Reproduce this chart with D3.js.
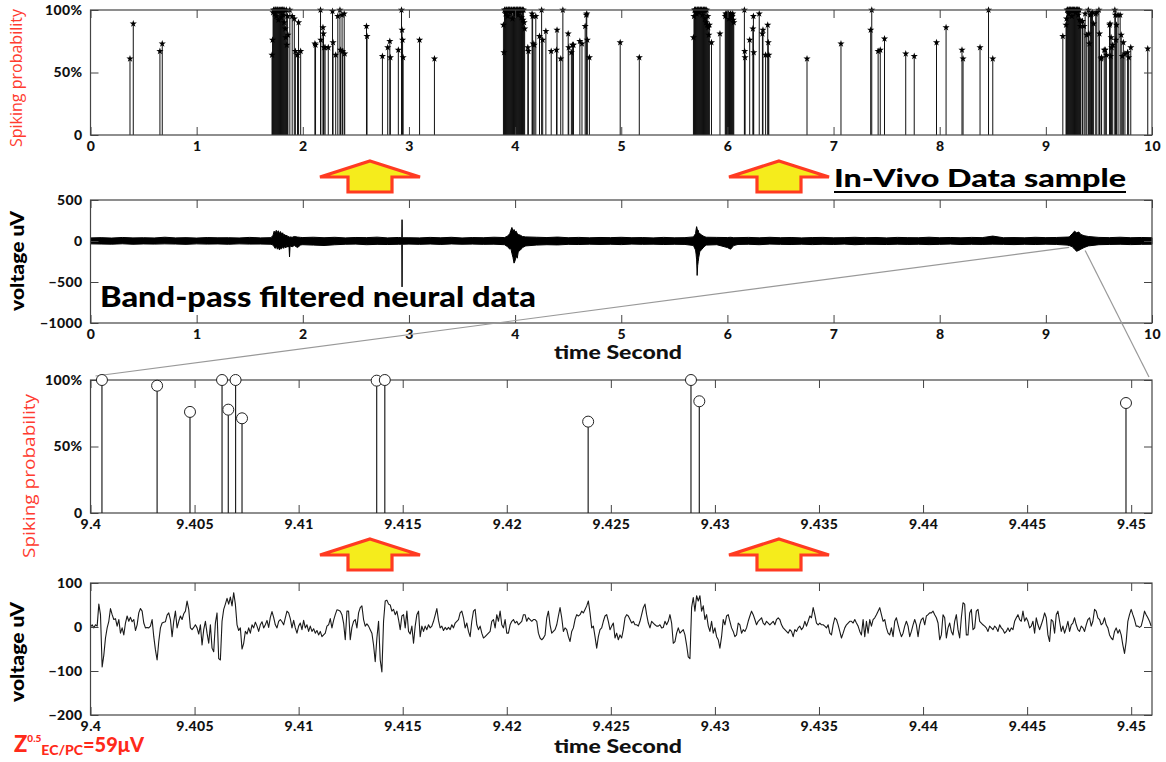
<!DOCTYPE html>
<html>
<head>
<meta charset="utf-8">
<script src="https://cdn.jsdelivr.net/npm/d3@7"></script>
<style>
  html, body { margin: 0; padding: 0; background: #fff; }
  svg { display: block; }
</style>
</head>
<body>
<svg id="fig" width="1166" height="762"></svg>
<script>
// ---------- Panel 1: spiking probability over 10 s (seconds, probability 0..1) ----------
const spikeTimes = [
  0.372, 0.403, 0.654, 0.676,
  1.710, 1.715, 1.720, 1.725, 1.730, 1.735, 1.740, 1.745, 1.750, 1.755, 1.760, 1.765, 1.770, 1.775, 1.780, 1.785,
  1.790, 1.795, 1.800, 1.805, 1.810, 1.815, 1.820, 1.825, 1.830, 1.835, 1.840, 1.845, 1.850, 1.855, 1.860,
  1.878, 1.900, 1.920, 1.930, 1.950, 1.960, 1.980,
  2.114, 2.120, 2.167, 2.170, 2.190, 2.195, 2.200, 2.210, 2.240,
  2.280, 2.285, 2.310, 2.330, 2.350, 2.355, 2.370, 2.375, 2.390, 2.395,
  2.600, 2.605, 2.750, 2.800, 2.820, 2.825, 2.900,
  2.930, 2.935, 2.940, 2.945, 3.100, 3.240,
  3.890, 3.895, 3.900, 3.905, 3.910, 3.915, 3.920, 3.925, 3.930, 3.935, 3.940, 3.945, 3.950, 3.955, 3.960, 3.965,
  3.970, 3.975, 3.980, 3.985, 3.990, 3.995, 4.000, 4.005, 4.010, 4.015, 4.020, 4.025, 4.030, 4.035, 4.040, 4.045,
  4.050, 4.055, 4.060, 4.065, 4.070, 4.075, 4.080, 4.085, 4.090,
  4.120, 4.125, 4.160, 4.165, 4.170, 4.180, 4.195, 4.230, 4.250, 4.260, 4.290,
  4.340, 4.390, 4.395, 4.430, 4.450, 4.500, 4.505, 4.530, 4.540, 4.550, 4.610, 4.630,
  4.660, 4.670, 4.675, 4.680, 4.700,
  4.990, 5.170,
  5.680, 5.685, 5.690, 5.695, 5.700, 5.705, 5.710, 5.715, 5.720, 5.725, 5.730, 5.735, 5.740, 5.745, 5.750, 5.755,
  5.760, 5.765, 5.770, 5.775, 5.780, 5.785, 5.790, 5.795, 5.800, 5.805, 5.810, 5.815, 5.820, 5.825, 5.830,
  5.850, 5.930,
  5.980, 5.985, 5.990, 5.995, 6.000, 6.005, 6.010, 6.015, 6.020, 6.025, 6.030, 6.035, 6.040, 6.045, 6.050, 6.055, 6.060,
  6.160, 6.163, 6.166, 6.210, 6.240, 6.245, 6.248, 6.300, 6.330, 6.335, 6.360, 6.380, 6.385, 6.390,
  6.750, 7.070, 7.350, 7.360, 7.420, 7.440, 7.480, 7.680, 7.760, 7.970, 8.060, 8.210, 8.220, 8.380, 8.460, 8.500,
  9.160,
  9.190, 9.195, 9.200, 9.205, 9.210, 9.215, 9.220, 9.225, 9.230, 9.235, 9.240, 9.245, 9.250, 9.255, 9.260, 9.265,
  9.270, 9.275, 9.280, 9.285, 9.290, 9.295, 9.300, 9.305, 9.310, 9.315, 9.320, 9.325, 9.330,
  9.345, 9.360, 9.370, 9.385, 9.400, 9.405, 9.410, 9.420, 9.430, 9.440, 9.450, 9.470, 9.480,
  9.500, 9.505, 9.520, 9.525, 9.550, 9.560, 9.570, 9.600, 9.605, 9.610, 9.615, 9.620, 9.630,
  9.650, 9.655, 9.660, 9.665, 9.680, 9.700, 9.710, 9.720, 9.730, 9.745, 9.770, 9.780, 9.800,
  9.960
];
const spikeProbs = [
  0.61, 0.89, 0.67, 0.73,
  0.64, 0.76, 0.98, 1.00, 1.00, 0.97, 1.00, 1.00, 0.95, 1.00, 1.00, 1.00, 0.92, 1.00, 1.00, 0.99,
  1.00, 0.94, 1.00, 1.00, 1.00, 0.96, 1.00, 0.90, 1.00, 0.85, 0.78, 1.00, 0.72, 0.95, 0.80,
  1.00, 0.95, 0.93, 0.67, 0.64, 0.90, 0.67,
  0.73, 0.72, 1.00, 0.76, 0.86, 0.81, 0.70, 0.70, 0.70,
  0.99, 0.74, 0.64, 0.95, 1.00, 0.68, 0.96, 0.67, 0.97, 0.65,
  0.87, 0.79, 0.63, 0.70, 0.75, 0.62, 0.68,
  1.00, 0.84, 0.76, 0.62, 0.76, 0.61,
  0.88, 0.66, 1.00, 1.00, 0.97, 1.00, 1.00, 1.00, 0.95, 1.00, 1.00, 1.00, 1.00, 0.98, 1.00, 1.00,
  1.00, 0.93, 1.00, 1.00, 1.00, 1.00, 1.00, 0.97, 1.00, 1.00, 1.00, 1.00, 0.96, 1.00, 1.00, 1.00,
  1.00, 1.00, 0.94, 1.00, 1.00, 0.92, 1.00, 0.90, 0.85,
  0.70, 0.67, 0.97, 0.95, 0.73, 0.72, 0.95, 0.79, 1.00, 0.76, 0.83,
  0.67, 0.68, 0.84, 0.61, 1.00, 0.81, 0.70, 0.66, 0.72, 0.72, 0.75, 0.73,
  0.87, 0.96, 0.97, 0.76, 0.62,
  0.74, 0.62,
  0.78, 0.95, 1.00, 1.00, 1.00, 1.00, 0.97, 1.00, 1.00, 1.00, 1.00, 0.98, 1.00, 1.00, 1.00, 1.00,
  1.00, 0.96, 1.00, 1.00, 1.00, 1.00, 0.93, 1.00, 0.90, 1.00, 0.88, 0.95, 0.86, 0.80, 0.88,
  0.74, 0.81,
  0.95, 0.97, 0.96, 0.97, 0.95, 0.96, 0.97, 0.93, 0.96, 0.95, 0.97, 0.94, 0.96, 0.95, 0.97, 0.92, 0.90,
  1.00, 0.67, 0.62, 0.76, 0.85, 0.95, 0.66, 0.97, 0.81, 0.84, 0.64, 0.88, 0.74, 0.64,
  0.61, 0.73, 0.84, 1.00, 0.67, 0.68, 0.77, 0.65, 0.63, 0.74, 0.86, 0.68, 0.61, 0.70, 1.00, 0.61,
  0.79,
  0.88, 0.93, 1.00, 1.00, 1.00, 0.97, 1.00, 1.00, 1.00, 1.00, 1.00, 0.95, 1.00, 1.00, 1.00, 1.00,
  1.00, 1.00, 0.98, 1.00, 1.00, 1.00, 1.00, 0.96, 1.00, 1.00, 0.92, 0.87, 0.91,
  0.91, 0.87, 0.97, 0.80, 1.00, 0.81, 0.73, 0.96, 0.97, 0.98, 0.89, 0.97, 0.98,
  1.00, 0.81, 0.61, 0.62, 0.68, 0.68, 0.64, 0.88, 0.89, 0.63, 0.78, 0.70, 0.72,
  1.00, 0.96, 0.76, 0.88, 0.96, 0.96, 0.80, 0.63, 0.74, 0.65, 0.66, 0.62, 0.70,
  0.69
];

// ---------- Panel 2: band-pass filtered signal, upper/lower envelope (uV) ----------
const envTime = [
  0.0, 0.1, 0.2, 0.3, 0.4, 0.5, 0.6, 0.7, 0.8, 0.9, 1.0, 1.1, 1.2, 1.3, 1.4, 1.5, 1.6, 1.7,
  1.72, 1.73, 1.74, 1.75, 1.76, 1.77, 1.78, 1.79, 1.80, 1.81, 1.82, 1.83, 1.84, 1.85, 1.86, 1.87, 1.875, 1.88, 1.90, 1.92, 1.95, 1.98,
  2.0, 2.1, 2.2, 2.3, 2.4, 2.5, 2.6, 2.7, 2.8, 2.9, 2.933, 2.935, 2.937,
  3.0, 3.1, 3.2, 3.3, 3.4, 3.5, 3.6, 3.7, 3.8, 3.9,
  3.93, 3.95, 3.96, 3.97, 3.98, 3.99, 4.00, 4.01, 4.02, 4.03, 4.05, 4.07, 4.10,
  4.2, 4.3, 4.4, 4.5, 4.6, 4.7, 4.8, 4.9, 5.0, 5.1, 5.2, 5.3, 5.4, 5.5, 5.6,
  5.68, 5.70, 5.705, 5.71, 5.715, 5.72, 5.725, 5.73, 5.74, 5.76, 5.78, 5.80,
  5.9, 6.0, 6.03, 6.06,
  6.1, 6.2, 6.3, 6.4, 6.5, 6.6, 6.7, 6.8, 6.9, 7.0, 7.1, 7.2, 7.3, 7.4, 7.5, 7.6,
  7.7, 7.8, 7.9, 8.0, 8.1, 8.2, 8.3, 8.4, 8.5, 8.6, 8.7, 8.8, 8.9, 9.0, 9.1, 9.2,
  9.22, 9.25, 9.27, 9.29, 9.31, 9.33, 9.36, 9.40,
  9.5, 9.6, 9.7, 9.8, 9.9, 10.0
];
const envHigh = [
  38, 41, 36, 43, 38, 40, 37, 46, 38, 41, 36, 42, 39, 40, 37, 44, 38, 41,
  70, 120, 95, 130, 105, 125, 90, 115, 85, 100, 70, 80, 60, 70, 50, 55, 45, 50, 45, 55, 48, 44,
  42, 46, 40, 45, 38, 43, 41, 47, 38, 43, 40, 260, 40,
  40, 38, 44, 39, 45, 37, 42, 40, 46, 42,
  60, 90, 130, 165, 120, 140, 110, 120, 90, 80, 70, 55, 50,
  46, 42, 48, 40, 44, 39, 43, 41, 45, 40, 42, 38, 44, 39, 41,
  50, 90, 140, 175, 150, 120, 130, 100, 90, 70, 55, 46,
  44, 42, 45, 40,
  41, 44, 39, 45, 40, 43, 38, 42, 44, 39, 41, 45, 40, 43, 38, 44,
  41, 40, 46, 40, 43, 39, 44, 41, 60, 40, 42, 39, 45, 41, 43, 48,
  50, 90, 120, 100, 110, 80, 65, 55,
  44, 41, 46, 40, 43, 40
];
const envLow = [
  -35, -37, -39, -34, -40, -36, -38, -35, -37, -41, -35, -38, -36, -40, -35, -38, -37, -40,
  -50, -70, -90, -60, -100, -75, -110, -85, -95, -70, -90, -60, -85, -55, -75, -60, -195, -60, -70, -55, -80, -48,
  -45, -50, -55, -46, -40, -38, -45, -41, -43, -40, -40, -560, -40,
  -38, -41, -37, -42, -36, -40, -38, -41, -39, -45,
  -70, -100, -90, -150, -200, -270, -240, -180, -210, -130, -110, -80, -60,
  -50, -45, -48, -41, -43, -39, -42, -40, -44, -38, -41, -39, -43, -40, -42,
  -55, -110, -160, -230, -420, -300, -250, -200, -130, -100, -70, -50,
  -45, -80, -100, -55,
  -42, -40, -45, -38, -41, -43, -39, -44, -40, -42, -38, -45, -40, -41, -43, -39,
  -42, -40, -44, -41, -38, -43, -40, -42, -39, -41, -44, -40, -43, -39, -42, -50,
  -55, -70, -100, -125, -115, -100, -80, -60,
  -45, -42, -40, -44, -41, -40
];

// ---------- Panel 3: spiking probability, 9.4 s to 9.451 s ----------
const zoomSpikeTimes = [9.40055, 9.4032, 9.40478, 9.40632, 9.40662, 9.40697, 9.40728,
                        9.41375, 9.41414, 9.42391, 9.42885, 9.42925, 9.44975];
const zoomSpikeProbs = [1.00, 0.957, 0.76, 1.00, 0.777, 1.00, 0.712,
                        0.995, 1.00, 0.687, 1.00, 0.84, 0.827];

// ---------- Panel 4: raw trace, 9.4 s onward, one sample every 0.08 ms (uV) ----------
const traceStart = 9.4;
const traceStep = 0.00008;
const traceValues = [
  0, 5, -2, 5, 2, 52, 28, -91, -64, -25, -2, 13, 42, 28, 17, 19, 2, 17, -14, -2,
  -18, 9, 25, 13, 22, 12, 17, -8, 5, 32, 42, 36, 9, -2, -1, -2, 2, 17, -22, -52,
  -75, -33, -2, 9, 11, 12, 27, 32, 17, -22, 13, 36, -2, 13, 25, 17, 30, 36, 59, 40,
  -2, -6, -1, 5, -2, -16, 5, -41, -6, 13, -14, -37, 5, -48, -56, 9, 32, -72, -75, 13,
  40, 52, 65, 52, 68, 48, 78, 52, 5, -8, -2, -50, -37, -10, -16, -2, -14, 5, -2, 11,
  2, -10, 5, 12, -2, 5, 15, -1, 22, 35, 22, 5, -2, 13, 17, 12, 5, 21, 36, 32,
  19, -2, 15, -2, -14, 2, 9, -6, 15, -2, 5, -10, 2, -10, -4, -14, -8, -18, -10, -22,
  -18, -14, 2, 5, 19, -2, 15, 28, 39, 38, 36, 28, 9, -29, 36, 36, -29, -1, 13, 17,
  -2, 32, 44, 48, 17, 2, 7, 2, -6, -14, -41, -79, -25, 13, -75, -102, 13, 59, 61, 52,
  50, 36, 40, 28, 36, 17, -6, 25, 28, -2, 36, -10, -16, 2, -37, 2, 28, 36, -22, 2,
  -10, 2, -6, 5, -2, 2, 13, 27, 42, 15, -2, 2, -8, -1, -6,
  -1, -6, 5, -2, 9, 13, 17, 32, 36, 21, -2, 9, -10, -22, 13, 36, 40, 5, -6, 2,
  -14, -25, -22, -18, -14, -10, 13, 17, -2, 28, 13, 36, 5, -2, 17, -14, -14, 5, 13, 17,
  9, 13, 5, 9, 13, 28, 28, 13, 21, 17, 13, 17, 17, 13, -14, -25, -29, -25, -18, 21,
  36, 5, -14, -10, -6, 5, 25, 44, 21, -10, -2, -6, -22, -33, -10, -2, 17, 28, 25, 28,
  36, 32, 40, 48, 59, 32, -2, 2, -22, -48, -22, -6, -2, 13, 25, 28, 13, -6, 2, 9,
  -25, -14, -29, -18, -25, -6, 21, 28, 25, 17, 9, 13, 5, 5, 2, 13, 28, 44, 52, 28,
  9, -2, 13, 9, 5, 2, 2, 5, -2, -1, 13, 5, 13, 28, 9, -37, -33, -14, -2, -14,
  -10, -6, -18, -41, -68, -72, 44, 67, 36, 71, 59, 71, 36, 48, 17, 28, 2, -10, 13, -14,
  -2, -22, -29, -48, -22, 17, 5, 25, 28, 13, -2, -10, -22, -18, 9, 5, -14, -6, -10, -2,
  13, 25, 36, 28, 17, 5, 13, 17, 21, 9, 5, 13, 9, 5, 9, 13, 5, 17, 21, 17,
  5, -2, -6, -10, -14, -6, -10, -22, -6, -10, -2, 2, -6, -1,
  13, 2, 13, 25, 21, 44, 28, 9, 5, 9, 5, 5, 2, -2, 5, -14, -18, 5, 21, 17,
  5, -10, -25, -14, -2, 5, 9, 13, 13, 9, 17, 9, 2, -10, -18, 17, -22, 13, -14, 17,
  2, 17, 21, 28, 36, 44, 28, 13, 17, -2, -14, -18, -2, -22, 13, 21, 5, -10, -22, -14,
  2, 13, 2, -22, -10, 5, 17, 5, -22, 5, 17, 21, 5, 25, 28, 32, 32, 36, 28, 21,
  9, -29, -18, 28, 21, -25, -2, 9, -10, -18, 13, 28, -6, -25, 21, 55, 52, -18, -18, 32,
  40, -6, -2, 36, 40, 13, 9, 5, 2, -2, -10, 2, -2, -6, 2, -2, -10, 5, -2, -6,
  -14, -10, -2, -10, -2, -6, 13, 21, 28, 17, 13, 36, 13, 21, 13, -2, 2, 13, -14, 21,
  5, -6, 5, 17, 32, 21, -18, -33, 17, 13, -14, 28, 36, 13, -10, 2, -14, -2, 13, -10,
  5, 9, 21, 5, -6, -10, 2, -2, -10, 5, 17, 21, 2, 13, 40, 36, 21, 17, 5, 9,
  21, 5, -2, -18, -25, -29, -10, -2, -14, -6, -18, -41, -60, -33, 13, 28, 40, 28, 17, 2,
  2, -1, 2, 17, 36, 28, 21, 13, 2
];

// ---------- tick values ----------
const overviewTicks = [0, 1, 2, 3, 4, 5, 6, 7, 8, 9, 10];
const probTicks = [0, 0.5, 1];
const probTickLabels = ["0", "50%", "100%"];
const voltTicksWide = [-1000, -500, 0, 500];
const zoomTicks = [9.4, 9.405, 9.41, 9.415, 9.42, 9.425, 9.43, 9.435, 9.44, 9.445, 9.45];
const zoomTickLabels = ["9.4", "9.405", "9.41", "9.415", "9.42", "9.425", "9.43", "9.435", "9.44", "9.445", "9.45"];
const voltTicksZoom = [-200, -100, 0, 100];

// ---------- layout ----------
const svg = d3.select("#fig");
const LEFT = 90.5, RIGHT = 1152;
const P1 = { top: 10, bottom: 135 };
const P2 = { top: 200, bottom: 323 };
const P3 = { top: 380, bottom: 513 };
const P4 = { top: 583, bottom: 715 };
const TICK = 8;
const tickFont = "Lato, 'DejaVu Sans', sans-serif";
const RED = "#ff3b30";

const xOver = d3.scaleLinear().domain([0, 10]).range([LEFT, RIGHT]);
const xZoom = d3.scaleLinear().domain([9.4, 9.451]).range([LEFT, RIGHT]);
const yP1 = d3.scaleLinear().domain([0, 1]).range([P1.bottom, P1.top]);
const yP2 = d3.scaleLinear().domain([-1000, 500]).range([P2.bottom, P2.top]);
const yP3 = d3.scaleLinear().domain([0, 1]).range([P3.bottom, P3.top]);
const yP4 = d3.scaleLinear().domain([-200, 100]).range([P4.bottom, P4.top]);

// MATLAB-like boxed axes: inward ticks on all four sides, labels bottom and left
function boxedAxes(x, y, xTicks, xFmt, yTicks, yFmt) {
  const g = svg.append("g");
  const [x0, x1] = x.range();
  const [yb, yt] = y.range();
  const style = sel => {
    sel.select(".domain").remove();
    sel.selectAll("line").attr("stroke", "#444").attr("stroke-width", 1);
    sel.selectAll("text").attr("fill", "#111").style("font-family", tickFont)
      .style("font-weight", "900").style("font-size", "14px").style("letter-spacing", "0.4px");
  };
  g.append("g").attr("transform", `translate(0,${yb})`)
    .call(d3.axisBottom(x).tickValues(xTicks).tickFormat(xFmt).tickSizeInner(-TICK).tickSizeOuter(0).tickPadding(6))
    .call(style);
  g.append("g").attr("transform", `translate(0,${yt})`)
    .call(d3.axisTop(x).tickValues(xTicks).tickFormat("").tickSizeInner(-TICK).tickSizeOuter(0))
    .call(style);
  g.append("g").attr("transform", `translate(${x0},0)`)
    .call(d3.axisLeft(y).tickValues(yTicks).tickFormat(yFmt).tickSizeInner(-TICK).tickSizeOuter(0).tickPadding(8))
    .call(style);
  g.append("g").attr("transform", `translate(${x1},0)`)
    .call(d3.axisRight(y).tickValues(yTicks).tickFormat("").tickSizeInner(-TICK).tickSizeOuter(0))
    .call(style);
  g.append("rect").attr("x", x0).attr("y", yt).attr("width", x1 - x0).attr("height", yb - yt)
    .attr("fill", "none").attr("stroke", "#444").attr("stroke-width", 1.2);
  return g;
}

function sideLabel(text, x, y, opts) {
  svg.append("text")
    .attr("transform", `translate(${x},${y}) rotate(-90)`)
    .attr("text-anchor", "middle").attr("dominant-baseline", "middle")
    .attr("fill", opts.color).style("font-family", opts.family)
    .style("font-weight", opts.weight).style("font-size", opts.size + "px")
    .attr("textLength", opts.length).attr("lengthAdjust", "spacingAndGlyphs")
    .text(text);
}

function timeLabel(y) {
  svg.append("text").attr("x", 618).attr("y", y)
    .attr("text-anchor", "middle").attr("dominant-baseline", "middle")
    .attr("fill", "#111").style("font-family", tickFont).style("font-weight", "900")
    .style("font-size", "19px").attr("textLength", 128).attr("lengthAdjust", "spacingAndGlyphs")
    .text("time Second");
}

// ---------- Panel 1 ----------
const g1 = svg.append("g");
g1.selectAll("line").data(spikeTimes).join("line")
  .attr("x1", d => xOver(d)).attr("x2", d => xOver(d))
  .attr("y1", yP1(0)).attr("y2", (d, i) => yP1(spikeProbs[i]))
  .attr("stroke", "#111").attr("stroke-width", 1);
g1.selectAll("path").data(spikeTimes).join("path")
  .attr("d", d3.symbol().type(d3.symbolStar).size(16))
  .attr("transform", (d, i) => `translate(${xOver(d)},${yP1(spikeProbs[i])})`)
  .attr("fill", "#000");
boxedAxes(xOver, yP1, overviewTicks, d3.format("d"), probTicks, (d, i) => probTickLabels[i]);
sideLabel("Spiking  probability", 18, 78, { color: RED, family: "'Open Sans', sans-serif", weight: 400, size: 16, length: 138 });

// ---------- Panel 2 ----------
const envData = envTime.map((t, i) => ({ t, hi: envHigh[i], lo: envLow[i] }));
svg.append("path").datum(envData)
  .attr("d", d3.area().x(d => xOver(d.t)).y0(d => yP2(d.lo)).y1(d => yP2(d.hi)))
  .attr("fill", "#000").attr("stroke", "#000").attr("stroke-width", 1);
boxedAxes(xOver, yP2, overviewTicks, d3.format("d"), voltTicksWide, d3.format("d"));
sideLabel("voltage uV", 19, 261, { color: "#000", family: tickFont, weight: 900, size: 19, length: 100 });
timeLabel(354);
svg.append("text").attr("x", 100).attr("y", 307)
  .attr("fill", "#000").style("font-family", tickFont).style("font-weight", "900")
  .style("font-size", "28px").attr("textLength", 436).attr("lengthAdjust", "spacingAndGlyphs")
  .text("Band-pass filtered neural data");

// title with underline
svg.append("text").attr("x", 834).attr("y", 187)
  .attr("fill", "#000").style("font-family", tickFont).style("font-weight", "900")
  .style("font-size", "25px").attr("textLength", 292).attr("lengthAdjust", "spacingAndGlyphs")
  .text("In-Vivo Data sample");
svg.append("line").attr("x1", 834).attr("x2", 1126)
  .attr("y1", 192).attr("y2", 192).attr("stroke", "#000").attr("stroke-width", 2.2);

// ---------- connector lines from the overview to the zoomed window ----------
const linkStart = [[9.22, -78], [9.37, -115]];
svg.append("line")
  .attr("x1", xOver(linkStart[0][0])).attr("y1", yP2(linkStart[0][1]))
  .attr("x2", xZoom(9.4) + 5).attr("y2", P3.top - 4)
  .attr("stroke", "#999").attr("stroke-width", 1.2);
svg.append("line")
  .attr("x1", xOver(linkStart[1][0])).attr("y1", yP2(linkStart[1][1]))
  .attr("x2", xZoom(9.451) - 3).attr("y2", P3.top - 3)
  .attr("stroke", "#999").attr("stroke-width", 1.2);

// ---------- Panel 3 ----------
const g3 = svg.append("g");
g3.selectAll("line").data(zoomSpikeTimes).join("line")
  .attr("x1", d => xZoom(d)).attr("x2", d => xZoom(d))
  .attr("y1", yP3(0)).attr("y2", (d, i) => yP3(zoomSpikeProbs[i]))
  .attr("stroke", "#222").attr("stroke-width", 1.2);
boxedAxes(xZoom, yP3, zoomTicks, (d, i) => zoomTickLabels[i], probTicks, (d, i) => probTickLabels[i]);
g3.raise();
g3.selectAll("circle").data(zoomSpikeTimes).join("circle")
  .attr("cx", d => xZoom(d)).attr("cy", (d, i) => yP3(zoomSpikeProbs[i]))
  .attr("r", 5.5).attr("fill", "#fff").attr("stroke", "#222").attr("stroke-width", 1);
sideLabel("Spiking  probability", 30, 476, { color: RED, family: "'Open Sans', sans-serif", weight: 400, size: 17, length: 164 });

// ---------- Panel 4 ----------
const traceData = traceValues.map((v, i) => ({ t: traceStart + i * traceStep, v }));
svg.append("path").datum(traceData)
  .attr("d", d3.line().x(d => xZoom(d.t)).y(d => yP4(d.v)))
  .attr("fill", "none").attr("stroke", "#1a1a1a").attr("stroke-width", 1.1)
  .attr("stroke-linejoin", "round");
boxedAxes(xZoom, yP4, zoomTicks, (d, i) => zoomTickLabels[i], voltTicksZoom, d3.format("d"));
sideLabel("voltage uV", 19, 652, { color: "#000", family: tickFont, weight: 900, size: 19, length: 100 });
timeLabel(748);

// impedance note
const zt = svg.append("text").attr("x", 14).attr("y", 752)
  .attr("fill", "#ff2a1a").style("font-family", tickFont).style("font-weight", "900");
zt.append("tspan").style("font-size", "22px").text("Z");
zt.append("tspan").style("font-size", "10px").attr("dy", -10).text("0.5");
zt.append("tspan").style("font-size", "14px").attr("dy", 13).text("EC/PC");
zt.append("tspan").style("font-size", "20px").attr("dy", -3).text("=59\u03BCV");

// ---------- block arrows between panels ----------
const arrowX = [370, 779];
const arrowTop = [161, 539];
function blockArrow(cx, top) {
  const p = d3.path();
  p.moveTo(cx, top);
  p.lineTo(cx + 50, top + 16);
  p.lineTo(cx + 22, top + 16);
  p.lineTo(cx + 22, top + 31);
  p.lineTo(cx - 22, top + 31);
  p.lineTo(cx - 22, top + 16);
  p.lineTo(cx - 50, top + 16);
  p.closePath();
  svg.append("path").attr("d", p.toString())
    .attr("fill", "#f5ec1c").attr("stroke", "#ff3b22").attr("stroke-width", 3.2)
    .attr("stroke-linejoin", "miter");
}
arrowTop.forEach(t => arrowX.forEach(x => blockArrow(x, t)));
</script>
</body>
</html>
